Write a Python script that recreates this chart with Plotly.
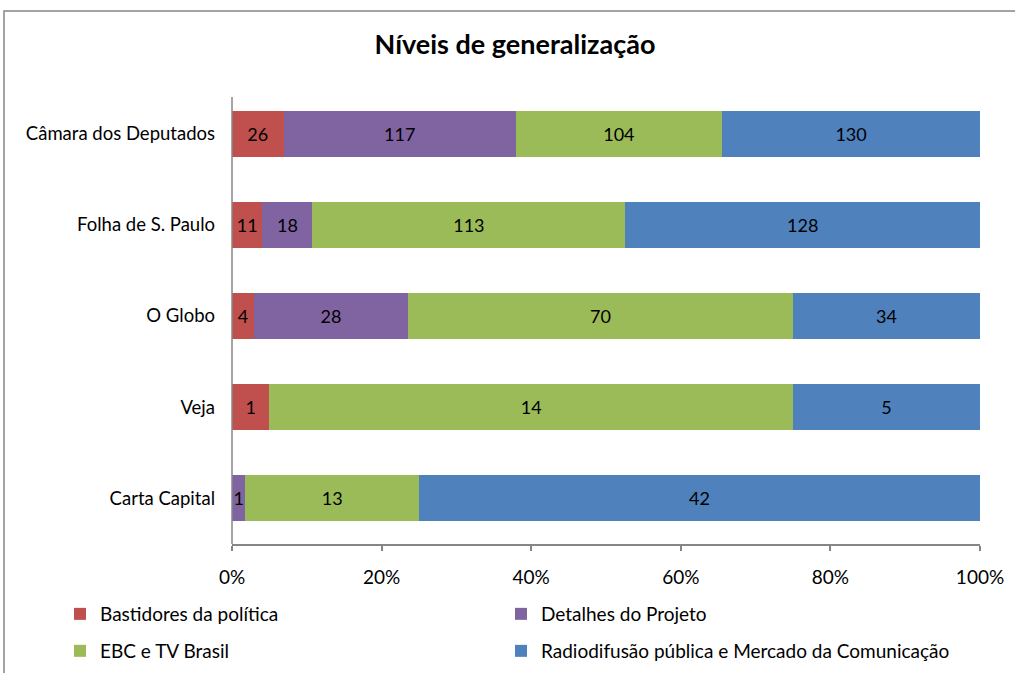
import plotly.graph_objects as go

categories = ["Câmara dos Deputados", "Folha de S. Paulo", "O Globo", "Veja", "Carta Capital"]
series_names = ["Bastidores da política", "Detalhes do Projeto", "EBC e TV Brasil",
                "Radiodifusão pública e Mercado da Comunicação"]
bastidores = [26, 11, 4, 1, 0]
detalhes = [117, 18, 28, 0, 1]
ebc = [104, 113, 70, 14, 13]
radiodifusao = [130, 128, 34, 5, 42]
tick_vals = [0, 20, 40, 60, 80, 100]
tick_text = ["0%", "20%", "40%", "60%", "80%", "100%"]
colors = ["#C0504D", "#8064A2", "#9BBB59", "#4F81BD"]

W, H = 1015, 673
L, R, T, B = 232, 35, 88, 129
pw, ph = W - L - R, H - T - B

def px_x(p):
    return (p - L) / pw

def px_y(p):
    return (H - B - p) / ph

FONT = "Lato"
fig = go.Figure()
legend_ids = ["legend", "legend2", "legend3", "legend4"]
for name, vals, col, lg in zip(series_names, [bastidores, detalhes, ebc, radiodifusao], colors, legend_ids):
    fig.add_trace(go.Bar(
        y=categories, x=vals, name=name, orientation="h", legend=lg, showlegend=True,
        marker=dict(color=col, line=dict(width=0)),
        text=[str(v) if v else "" for v in vals],
        textposition="inside", insidetextanchor="middle", textangle=0,
        textfont=dict(color="black", size=18, family=FONT),
        hoverinfo="x+y+name",
    ))

legend_common = dict(orientation="h", xanchor="left", yanchor="middle",
                     xref="container", yref="container",
                     font=dict(size=19, family=FONT, color="black"), itemwidth=30,
                     bgcolor="rgba(0,0,0,0)")
# legend item positions (pixels): text columns at 100 and 541, rows at 614 and 651
col_px = [60, 501]
row_px = [614, 651]

fig.update_layout(
    width=W, height=H, showlegend=True,
    barmode="stack", barnorm="percent", bargap=0.495,
    margin=dict(l=L, r=R, t=T, b=B, autoexpand=False),
    paper_bgcolor="white", plot_bgcolor="white",
    font=dict(family=FONT, size=18, color="black"),
    title=dict(text="<b>Níveis de generalização</b>", x=515 / W, xref="container", xanchor="center",
               y=1 - 45 / H, yref="container", yanchor="middle",
               font=dict(size=27, family=FONT, color="black")),
    uniformtext=dict(minsize=18, mode="show"),
    xaxis=dict(range=[0, 100], tickvals=tick_vals, ticktext=tick_text, showgrid=False,
               zeroline=False, showline=True, linecolor="#868686", linewidth=1.5,
               ticks="outside", ticklen=5, tickcolor="#868686", tickwidth=1.5,
               ticklabelstandoff=10, automargin=False,
               tickfont=dict(size=19, family=FONT, color="black")),
    yaxis=dict(autorange="reversed", showgrid=False, zeroline=False, showline=False,
               ticks="", ticklabelstandoff=16, automargin=False,
               tickfont=dict(size=18.5, family=FONT, color="black")),
    legend=dict(x=col_px[0] / W, y=1 - row_px[0] / H, visible=True, **legend_common),
    legend2=dict(x=col_px[1] / W, y=1 - row_px[0] / H, **legend_common),
    legend3=dict(x=col_px[0] / W, y=1 - row_px[1] / H, **legend_common),
    legend4=dict(x=col_px[1] / W, y=1 - row_px[1] / H, **legend_common),
    shapes=[
        dict(type="rect", xref="paper", yref="paper",
             x0=px_x(4), x1=px_x(1030), y0=px_y(700), y1=px_y(11),
             line=dict(color="#868686", width=1.5), layer="below"),
        dict(type="line", xref="paper", yref="paper",
             x0=0, x1=0, y0=0, y1=px_y(97),
             line=dict(color="#868686", width=1.5), layer="above"),
    ],
)

fig.write_html("out.html", config={"displayModeBar": False},
               post_script="document.body.style.margin='0';document.body.style.overflow='hidden';")
